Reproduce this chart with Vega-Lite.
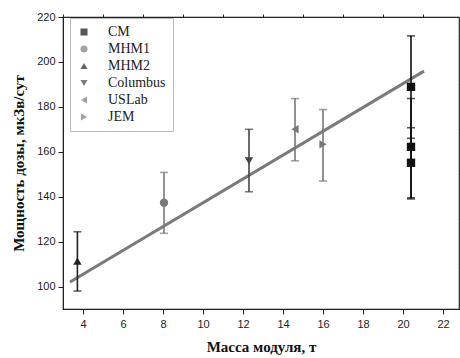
{
  "$schema": "https://vega.github.io/schema/vega-lite/v6.json",
  "autosize": "none",
  "width": 396,
  "height": 292,
  "padding": {"left": 63, "top": 17, "right": 1, "bottom": 49},
  "background": "white",
  "config": {
    "view": {"stroke": "#222", "strokeWidth": 1.2},
    "axis": {
      "labelFont": "Liberation Sans",
      "labelFontSize": 11,
      "labelColor": "#222",
      "titleFont": "Liberation Serif",
      "titleFontSize": 15,
      "titleFontWeight": "bold",
      "titleColor": "#111",
      "domainColor": "#222",
      "tickColor": "#222",
      "grid": false
    }
  },
  "datasets": {
    "pts": [
      {"series": "CM", "x": 20.4, "y": 188.9, "lo": 166, "hi": 211.6},
      {"series": "CM", "x": 20.4, "y": 162.2, "lo": 139.5, "hi": 183.7},
      {"series": "CM", "x": 20.4, "y": 155.1, "lo": 139, "hi": 170.7},
      {"series": "MHM1", "x": 8.05, "y": 137.3, "lo": 123.7, "hi": 150.8},
      {"series": "MHM2", "x": 3.72, "y": 111.3, "lo": 98, "hi": 124.4},
      {"series": "Columbus", "x": 12.3, "y": 156, "lo": 142.2, "hi": 170},
      {"series": "USLab", "x": 14.6, "y": 170, "lo": 156, "hi": 183.7},
      {"series": "JEM", "x": 16.0, "y": 163.3, "lo": 147, "hi": 178.8}
    ],
    "fit": [
      {"x": 3.35, "y": 102},
      {"x": 21.05, "y": 195.9}
    ]
  },
  "resolve": {"axis": {"x": "independent", "y": "independent"}},
  "layer": [
    {
      "data": {"name": "fit"},
      "mark": {"type": "line", "color": "#7a7a7a", "strokeWidth": 3},
      "encoding": {
        "x": {"field": "x", "type": "quantitative", "scale": {"domain": [3, 22.8], "nice": false},
          "axis": {"title": "Масса модуля, т", "values": [4, 6, 8, 10, 12, 14, 16, 18, 20, 22], "titlePadding": 10, "labelPadding": 4, "tickSize": 5}},
        "y": {"field": "y", "type": "quantitative", "scale": {"domain": [90, 220], "nice": false},
          "axis": {"title": "Мощность дозы, мкЗв/сут", "values": [100, 120, 140, 160, 180, 200, 220], "titlePadding": 10, "labelPadding": 3, "tickSize": 5}}
      }
    },
    {
      "data": {"name": "pts"},
      "mark": {"type": "rule", "strokeWidth": 1.6},
      "encoding": {
        "x": {"field": "x", "type": "quantitative",
          "axis": {"title": null, "labels": false, "domain": false, "tickSize": 3, "values": [3, 5, 7, 9, 11, 13, 15, 17, 19, 21]}},
        "y": {"field": "lo", "type": "quantitative",
          "axis": {"title": null, "labels": false, "domain": false, "tickSize": 3, "values": [90, 110, 130, 150, 170, 190, 210]}},
        "y2": {"field": "hi"},
        "color": {"field": "series", "type": "nominal",
          "scale": {"domain": ["CM", "MHM1", "MHM2", "Columbus", "USLab", "JEM"], "range": ["#111", "#7a7a7a", "#222", "#444", "#777", "#777"]}}
      }
    },
    {
      "data": {"name": "pts"},
      "mark": {"type": "tick", "orient": "horizontal", "size": 8, "thickness": 1.6},
      "encoding": {
        "x": {"field": "x", "type": "quantitative", "axis": null},
        "y": {"field": "lo", "type": "quantitative", "axis": null},
        "color": {"field": "series", "type": "nominal"}
      }
    },
    {
      "data": {"name": "pts"},
      "mark": {"type": "tick", "orient": "horizontal", "size": 8, "thickness": 1.6},
      "encoding": {
        "x": {"field": "x", "type": "quantitative", "axis": null},
        "y": {"field": "hi", "type": "quantitative", "axis": null},
        "color": {"field": "series", "type": "nominal"}
      }
    },
    {
      "data": {"name": "pts"},
      "mark": {"type": "point", "filled": true, "opacity": 1, "size": 70},
      "encoding": {
        "x": {"field": "x", "type": "quantitative", "axis": null},
        "y": {"field": "y", "type": "quantitative", "axis": null},
        "shape": {"field": "series", "type": "nominal",
          "scale": {"domain": ["CM", "MHM1", "MHM2", "Columbus", "USLab", "JEM"], "range": ["square", "circle", "triangle-up", "triangle-down", "triangle-left", "triangle-right"]},
          "legend": {
            "title": null, "orient": "none", "legendX": 7, "legendY": 1,
            "labelFont": "Liberation Serif", "labelFontSize": 14, "labelColor": "#222",
            "strokeColor": "#bbb", "padding": 7,
            "symbolSize": 50, "labelOffset": 17, "rowPadding": 3, "symbolStrokeWidth": 0
          }},
        "color": {"field": "series", "type": "nominal",
          "scale": {"domain": ["CM", "MHM1", "MHM2", "Columbus", "USLab", "JEM"], "range": ["#111", "#7a7a7a", "#222", "#444", "#777", "#777"]}}
      }
    }
  ]
}
